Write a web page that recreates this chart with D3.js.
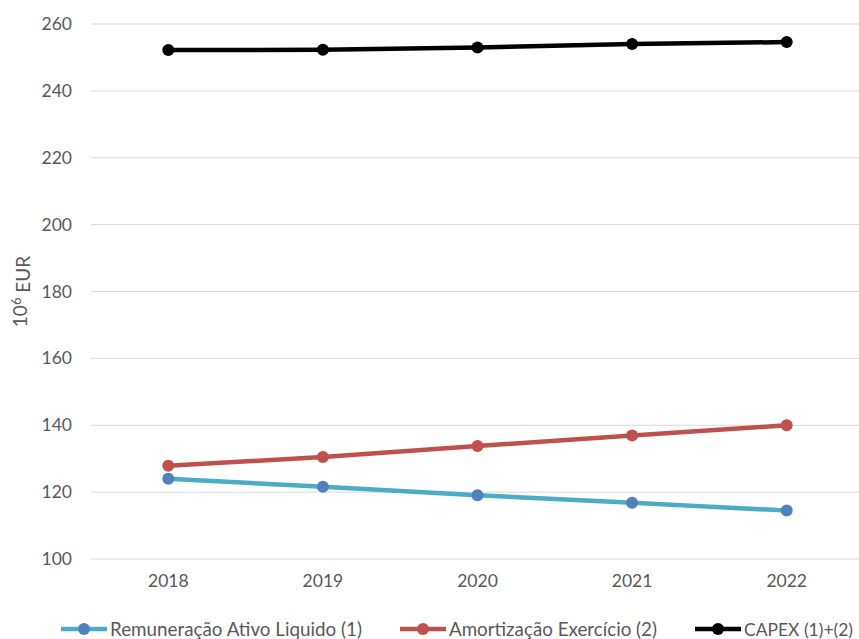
<!DOCTYPE html>
<html>
<head>
<meta charset="utf-8">
<script src="https://cdn.jsdelivr.net/npm/d3@7"></script>
<style>
  body { margin: 0; background: #fff; }
  svg text { font-family: Lato, 'Open Sans', sans-serif; fill: #595959; }
</style>
</head>
<body>
<svg id="chart" width="859" height="639"></svg>
<script>
'use strict';

// data
var years = ['2018', '2019', '2020', '2021', '2022'];
var remuneracao = [124.0, 121.6, 119.1, 116.8, 114.5];
var amortizacao = [127.9, 130.5, 133.8, 136.9, 140.0];
var capex = [252.2, 252.3, 253.0, 254.0, 254.6];
var yTicks = [100, 120, 140, 160, 180, 200, 220, 240, 260];

var series = [
  {name: 'Remuneração Ativo Liquido (1)', values: remuneracao, line: '#4BACC6', marker: '#4F81BD'},
  {name: 'Amortização Exercício (2)', values: amortizacao, line: '#C0504D', marker: '#C0504D'},
  {name: 'CAPEX (1)+(2)', values: capex, line: '#000000', marker: '#000000'}
];

var plot = {left: 91, right: 864, top: 24, bottom: 559};
var svg = d3.select('#chart');

var x = d3.scaleBand().domain(years).range([plot.left, plot.right]);
var y = d3.scaleLinear().domain([100, 260]).range([plot.bottom, plot.top]);

// gridlines
svg.append('g').selectAll('line').data(yTicks).enter().append('line')
  .attr('x1', plot.left).attr('x2', plot.right)
  .attr('y1', d => y(d)).attr('y2', d => y(d))
  .style('stroke', '#d9d9d9').style('stroke-width', 1);

// y axis labels
var yAxis = svg.append('g')
  .attr('transform', 'translate(' + (plot.left - 19) + ',0)')
  .call(d3.axisLeft(y).tickValues(yTicks).tickSize(0).tickPadding(0));
yAxis.select('.domain').remove();
yAxis.selectAll('text').style('font-size', '17.5px').style('font-family', null).attr('fill', null);

// x axis labels
var xAxis = svg.append('g')
  .attr('transform', 'translate(0,' + (plot.bottom + 16) + ')')
  .call(d3.axisBottom(x).tickSize(0).tickPadding(0));
xAxis.select('.domain').remove();
xAxis.selectAll('text').style('font-size', '17.5px').style('font-family', null).attr('fill', null);

// y axis title
var title = svg.append('text')
  .attr('transform', 'translate(27,' + ((plot.top + plot.bottom) / 2) + ')rotate(-90)')
  .attr('text-anchor', 'middle')
  .style('font-size', '19px');
title.append('tspan').text('10');
title.append('tspan').attr('dy', '-0.45em').style('font-size', '13px').text('6');
title.append('tspan').attr('dy', '0.45em').text(' EUR');

// lines and markers
var line = d3.line()
  .x((d, i) => x(years[i]) + x.bandwidth() / 2)
  .y(d => y(d));

var groups = svg.selectAll('.series').data(series).enter().append('g').attr('class', 'series');
groups.append('path')
  .attr('d', d => line(d.values))
  .attr('fill', 'none')
  .attr('stroke', d => d.line)
  .attr('stroke-width', 4.5)
  .attr('stroke-linejoin', 'round');
groups.selectAll('circle').data(d => d.values.map(v => ({v: v, color: d.marker}))).enter()
  .append('circle')
  .attr('cx', (d, i) => x(years[i]) + x.bandwidth() / 2)
  .attr('cy', d => y(d.v))
  .attr('r', 6)
  .attr('fill', d => d.color);

// legend (item offsets and text widths fitted to the picture)
var legendPos = [61, 400, 695];
var legendWidth = [252, 208, 109];
var legend = svg.selectAll('.legend').data(series).enter().append('g')
  .attr('class', 'legend')
  .attr('transform', (d, i) => 'translate(' + legendPos[i] + ',629)');
legend.append('line')
  .attr('x1', 0).attr('x2', 46)
  .attr('stroke', d => d.line).attr('stroke-width', 4.5);
legend.append('circle')
  .attr('cx', 23).attr('r', 6).attr('fill', d => d.marker);
legend.append('text')
  .attr('x', 49).attr('y', 6.5)
  .attr('textLength', (d, i) => legendWidth[i])
  .attr('lengthAdjust', 'spacingAndGlyphs')
  .style('font-size', (d, i) => i === 2 ? '18px' : '19px')
  .text(d => d.name);
</script>
</body>
</html>
